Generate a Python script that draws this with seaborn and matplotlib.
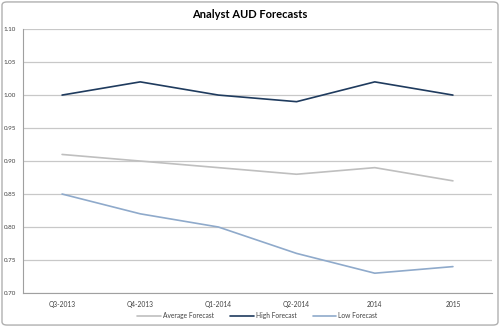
import matplotlib
matplotlib.use("Agg")
import matplotlib.pyplot as plt
from matplotlib.patches import FancyBboxPatch
import seaborn as sns
import pandas as pd
import numpy as np

categories = ["Q3-2013", "Q4-2013", "Q1-2014", "Q2-2014", "2014", "2015"]
average_forecast = [0.91, 0.90, 0.89, 0.88, 0.89, 0.87]
high_forecast = [1.00, 1.02, 1.00, 0.99, 1.02, 1.00]
low_forecast = [0.85, 0.82, 0.80, 0.76, 0.73, 0.74]
series_names = ["Average Forecast", "High Forecast", "Low Forecast"]
colors = ["#BFBFBF", "#1F3B5E", "#8FAACB"]
yticks = [0.70, 0.75, 0.80, 0.85, 0.90, 0.95, 1.00, 1.05, 1.10]

sns.set_style("white")
plt.rcParams["font.family"] = ["Lato", "DejaVu Sans"]

df = pd.DataFrame({
    "Period": categories * 3,
    "Value": average_forecast + high_forecast + low_forecast,
    "Series": [series_names[0]] * 6 + [series_names[1]] * 6 + [series_names[2]] * 6,
})

fig = plt.figure(figsize=(5.0, 3.27), dpi=100)
ax = fig.add_axes([0.046, 0.104, 0.938, 0.807])

sns.lineplot(data=df, x="Period", y="Value", hue="Series", sort=False,
             palette=dict(zip(series_names, colors)), linewidth=1.2, ax=ax,
             legend=True)

ax.set_xlim(-0.5, 5.5)
ax.set_ylim(0.70, 1.10)
ax.set_yticks(yticks)
ax.set_yticklabels([f"{v:.2f}" for v in yticks], fontsize=4.5, color="#404040")
ax.set_xticks(range(len(categories)))
ax.set_xticklabels(categories, fontsize=4.8, color="#404040")
ax.set_xticks(np.arange(-0.5, 6.0, 1.0), minor=True)
ax.tick_params(axis="x", which="major", length=0, pad=6)
ax.tick_params(axis="x", which="minor", length=3, color="#A0A0A0", width=0.8)
ax.tick_params(axis="y", which="major", length=2.5, color="#A0A0A0", width=0.8, pad=2.5)
ax.set_xlabel("")
ax.set_ylabel("")
ax.yaxis.grid(True, color="#C8C8C8", linewidth=0.9)
ax.set_axisbelow(True)
for s in ["top", "right"]:
    ax.spines[s].set_visible(False)
for s in ["left", "bottom"]:
    ax.spines[s].set_color("#A0A0A0")
    ax.spines[s].set_linewidth(0.8)

handles, labels = ax.get_legend_handles_labels()
ax.legend(handles, labels, loc="center", bbox_to_anchor=(0.5, -0.085),
          ncol=3, frameon=False, fontsize=4.8, handlelength=3.5,
          columnspacing=2.5, handletextpad=0.3, labelcolor="#404040")

fig.text(0.5, 0.955, "Analyst AUD Forecasts", ha="center", va="center",
         fontsize=8, fontweight="bold", color="#000000")

border = FancyBboxPatch((0.004, 0.006), 0.992, 0.988,
                        boxstyle="round,pad=0,rounding_size=0.01",
                        transform=fig.transFigure, fill=False,
                        edgecolor="#B0B0B0", linewidth=1.0)
fig.patches.append(border)

fig.savefig("out.png", dpi=100)
